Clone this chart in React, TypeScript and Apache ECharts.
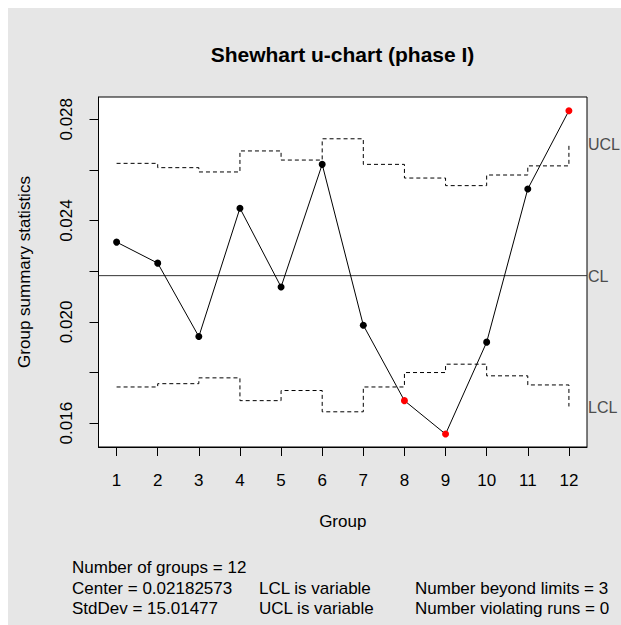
import React, { useEffect, useRef } from "react";
import * as echarts from "echarts";

// ---- data ----
const groups = [1, 2, 3, 4, 5, 6, 7, 8, 9, 10, 11, 12];
const uValues = [0.02315, 0.02232, 0.01942, 0.02449, 0.02138, 0.02622, 0.01987, 0.01689, 0.01557, 0.0192, 0.02525, 0.02834];
const uclValues = [0.02626, 0.02609, 0.02592, 0.02675, 0.02639, 0.02723, 0.02622, 0.02568, 0.02538, 0.0258, 0.02616, 0.02705];
const lclValues = [0.01743, 0.01756, 0.01779, 0.01689, 0.01729, 0.01645, 0.01743, 0.018, 0.01833, 0.01787, 0.01751, 0.01666];
const centerLine = 0.02182573;

const xTickValues = groups;
const yTickValues = [0.016, 0.018, 0.02, 0.022, 0.024, 0.026, 0.028];
const yLabelValues = [0.016, 0.02, 0.024, 0.028];
const yMin = 0.01506;
const yMax = 0.02888;
const xMin = 0.56;
const xMax = 12.44;

const titleText = "Shewhart u-chart (phase I)";
const xAxisTitle = "Group";
const yAxisTitle = "Group summary statistics";
const limitLabels = ["UCL", "CL", "LCL"];
const statsCol1 = ["Number of groups = 12", "Center = 0.02182573", "StdDev = 15.01477"];
const statsCol2 = ["", "LCL is variable", "UCL is variable"];
const statsCol3 = ["", "Number beyond limits = 3", "Number violating runs = 0"];

const FONT = '"Liberation Sans", Arial, Helvetica, sans-serif';
const OFF = 8; // chart div offset inside the page

export default function App() {
  const ref = useRef<HTMLDivElement>(null);

  useEffect(() => {
    if (!ref.current) return;
    const chart = echarts.init(ref.current, null, { renderer: "svg" });

    const points = groups.map((g, i) => {
      const out = uValues[i] > uclValues[i] || uValues[i] < lclValues[i];
      return {
        value: [g, uValues[i]],
        itemStyle: { color: out ? "#ff0000" : "#000000" },
      };
    });

    chart.setOption({
      animation: false,
      backgroundColor: "transparent",
      textStyle: { fontFamily: FONT },
      grid: {
        left: 98 - OFF,
        top: 97 - OFF,
        right: 34,
        bottom: 178,
        show: true,
        backgroundColor: "#ffffff",
        borderColor: "#000000",
        borderWidth: 1,
        containLabel: false,
      },
      xAxis: {
        type: "value",
        min: xMin,
        max: xMax,
        name: xAxisTitle,
        nameLocation: "middle",
        nameGap: 65.5,
        nameTextStyle: { fontSize: 17, color: "#000", fontFamily: FONT },
        axisLine: { show: true, onZero: false, lineStyle: { color: "#000", width: 1 } },
        axisTick: { show: true, inside: false, length: 9, lineStyle: { color: "#000", width: 1 }, customValues: xTickValues },
        axisLabel: {
          show: true,
          margin: 24.5,
          fontSize: 17,
          color: "#000",
          fontFamily: FONT,
          customValues: xTickValues,
          formatter: (v: number) => String(v),
        },
        splitLine: { show: false },
      },
      yAxis: {
        type: "value",
        min: yMin,
        max: yMax,
        name: yAxisTitle,
        nameLocation: "middle",
        nameGap: 65.5,
        nameRotate: 90,
        nameTextStyle: { fontSize: 17, color: "#000", fontFamily: FONT },
        axisLine: { show: true, onZero: false, lineStyle: { color: "#000", width: 1 } },
        axisTick: { show: true, inside: false, length: 9, lineStyle: { color: "#000", width: 1 }, customValues: yTickValues },
        axisLabel: {
          show: true,
          rotate: 90,
          margin: 23.5,
          fontSize: 17,
          color: "#000",
          fontFamily: FONT,
          customValues: yLabelValues,
          formatter: (v: number) => v.toFixed(3),
        },
        splitLine: { show: false },
      },
      series: [
        {
          name: "CL",
          type: "line",
          data: [
            [xMin, centerLine],
            [xMax, centerLine],
          ],
          symbol: "none",
          silent: true,
          lineStyle: { color: "#333", width: 1, type: "solid" },
          z: 1,
        },
        {
          name: "UCL",
          type: "line",
          step: "end",
          data: groups.map((g, i) => [g, uclValues[i]]),
          symbol: "none",
          silent: true,
          lineStyle: { color: "#000", width: 1, type: [4, 3] },
          z: 2,
        },
        {
          name: "LCL",
          type: "line",
          step: "end",
          data: groups.map((g, i) => [g, lclValues[i]]),
          symbol: "none",
          silent: true,
          lineStyle: { color: "#000", width: 1, type: [4, 3] },
          z: 2,
        },
        {
          name: "u",
          type: "line",
          data: points,
          symbol: "circle",
          symbolSize: 7,
          showAllSymbol: true,
          lineStyle: { color: "#000", width: 1 },
          z: 3,
        },
      ],
    });

    const py = (v: number) => (chart.convertToPixel({ xAxisIndex: 0, yAxisIndex: 0 }, [12, v]) as number[])[1];
    const limitVals = [uclValues[11], centerLine, lclValues[11]];

    const graphics: any[] = [];
    graphics.push({
      type: "text",
      x: 342.5 - OFF,
      y: 54.5 - OFF,
      silent: true,
      style: {
        text: titleText,
        fill: "#000",
        fontSize: 21,
        fontWeight: "bold",
        fontFamily: FONT,
        align: "center",
        verticalAlign: "middle",
      },
    });
    limitLabels.forEach((t, i) => {
      graphics.push({
        type: "text",
        x: 588 - OFF,
        y: py(limitVals[i]) + 1,
        silent: true,
        style: {
          text: t,
          fill: "#4d4d4d",
          fontSize: 16,
          fontFamily: FONT,
          align: "left",
          verticalAlign: "middle",
        },
      });
    });
    const colX = [72, 259, 415];
    const rowY = [567, 588, 608];
    [statsCol1, statsCol2, statsCol3].forEach((col, c) => {
      col.forEach((t, r) => {
        if (!t) return;
        graphics.push({
          type: "text",
          x: colX[c] - OFF,
          y: rowY[r] - OFF,
          silent: true,
          style: {
            text: t,
            fill: "#000",
            fontSize: 17,
            fontFamily: FONT,
            align: "left",
            verticalAlign: "middle",
          },
        });
      });
    });
    chart.setOption({ graphic: graphics });

    return () => {
      chart.dispose();
    };
  }, []);

  return (
    <div style={{ position: "fixed", left: 0, top: 0, width: 621, height: 625, background: "#ffffff", overflow: "hidden" }}>
      <div
        ref={ref}
        style={{ position: "absolute", left: OFF, top: OFF, width: 621 - OFF, height: 625 - OFF, background: "#e6e6e6" }}
      />
    </div>
  );
}
